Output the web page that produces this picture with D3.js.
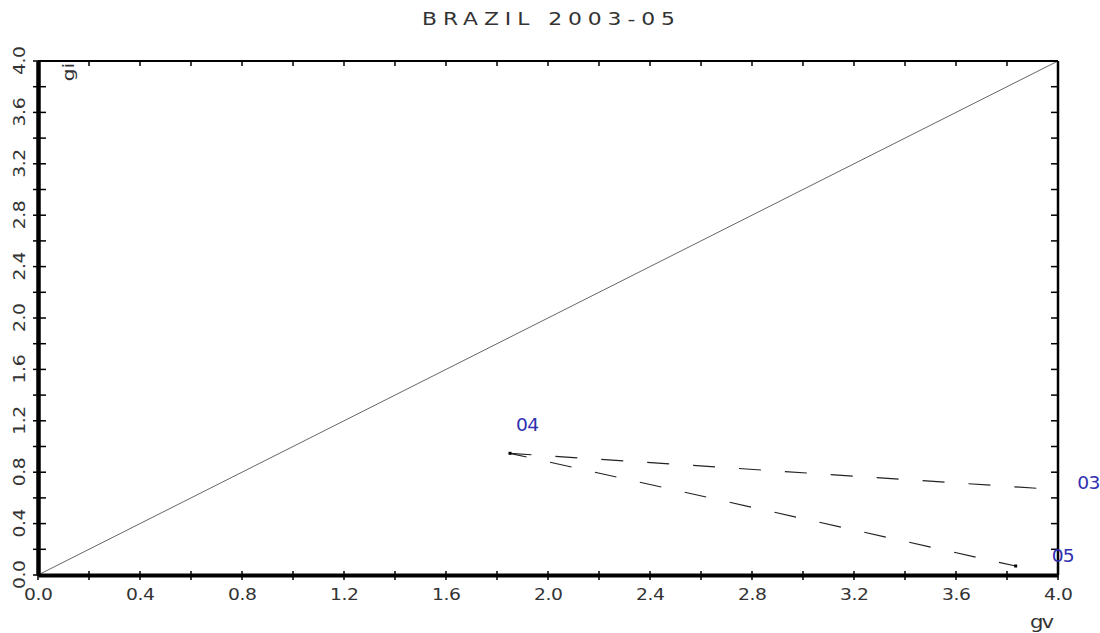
<!DOCTYPE html>
<html>
<head>
<meta charset="utf-8">
<script src="https://cdn.jsdelivr.net/npm/d3@7"></script>
<style>
  body { margin: 0; background: #fff; }
  svg text { font-family: "DejaVu Sans", sans-serif; fill: #333; }
  .tick-label { font-size: 15px; }
</style>
</head>
<body>
<div id="chart"></div>
<script>
// data
const title = "BRAZIL 2003-05";
const years = ["03", "04", "05"];
const gv = [3.915, 1.851, 3.834];
const gi = [0.675, 0.947, 0.07];
const diagonal = [0, 4];
const majorTicks = [0.0, 0.4, 0.8, 1.2, 1.6, 2.0, 2.4, 2.8, 3.2, 3.6, 4.0];
const minorTicks = [0.2, 0.6, 1.0, 1.4, 1.8, 2.2, 2.6, 3.0, 3.4, 3.8];

const width = 1100, height = 633;
const margin = { left: 38, right: 42, top: 61, bottom: 58 };
const wide = 1.25; // the original uses a wide stroke font

const svg = d3.select("#chart").append("svg")
  .attr("width", width).attr("height", height);

const x = d3.scaleLinear().domain([0, 4]).range([margin.left, width - margin.right]);
const y = d3.scaleLinear().domain([0, 4]).range([height - margin.bottom, margin.top]);

// title
svg.append("text")
  .attr("transform", `translate(422,25) scale(${wide},1)`)
  .attr("textLength", 253 / wide).attr("lengthAdjust", "spacing")
  .style("font-size", "17.5px")
  .text(title);

// 45 degree line
svg.append("line")
  .attr("x1", x(diagonal[0])).attr("y1", y(diagonal[0]))
  .attr("x2", x(diagonal[1])).attr("y2", y(diagonal[1]))
  .attr("stroke", "#666").attr("stroke-width", 1);

// frame: thin top/right, heavy left/bottom
const x0 = x(0), x1 = x(4), y0 = y(0), y1 = y(4);
svg.append("line").attr("x1", x0).attr("x2", x1).attr("y1", y1).attr("y2", y1)
  .attr("stroke", "#000").attr("stroke-width", 2);
svg.append("line").attr("x1", x1).attr("x2", x1).attr("y1", y1).attr("y2", y0)
  .attr("stroke", "#000").attr("stroke-width", 2.5);

const allTicks = majorTicks.concat(minorTicks);

// top + right inward ticks
svg.append("g").selectAll("line").data(allTicks).join("line")
  .attr("x1", d => x(d)).attr("x2", d => x(d))
  .attr("y1", y1).attr("y2", y1 + 5)
  .attr("stroke", "#000").attr("stroke-width", 1.5);
svg.append("g").selectAll("line").data(allTicks).join("line")
  .attr("x1", x1 - 7).attr("x2", x1)
  .attr("y1", d => y(d)).attr("y2", d => y(d))
  .attr("stroke", "#000").attr("stroke-width", 1.5);

// bottom axis
const xAxis = d3.axisBottom(x).tickValues(allTicks).tickSize(0).tickFormat("");
const gx = svg.append("g").attr("transform", `translate(0,${y0})`).call(xAxis);
gx.select(".domain").attr("stroke-width", 4).attr("stroke", "#000");
gx.selectAll(".tick line").remove();
svg.append("g").selectAll("line").data(allTicks).join("line")
  .attr("x1", d => x(d)).attr("x2", d => x(d))
  .attr("y1", y0 - 4).attr("y2", y0 + 5)
  .attr("stroke", "#000").attr("stroke-width", 1.5);
svg.append("g").selectAll("text").data(majorTicks).join("text")
  .attr("class", "tick-label")
  .attr("transform", d => `translate(${x(d) - 14},${y0 + 25}) scale(${wide},1)`)
  .attr("textLength", 29 / wide).attr("lengthAdjust", "spacing")
  .text(d => d.toFixed(1));

// left axis
const yAxis = d3.axisLeft(y).tickValues(allTicks).tickSize(0).tickFormat("");
const gy = svg.append("g").attr("transform", `translate(${x0},0)`).call(yAxis);
gy.select(".domain").attr("stroke-width", 4.5).attr("stroke", "#000");
gy.selectAll(".tick line").remove();
svg.append("g").selectAll("line").data(allTicks).join("line")
  .attr("x1", x0 - 5).attr("x2", x0 + 8)
  .attr("y1", d => y(d)).attr("y2", d => y(d))
  .attr("stroke", "#000").attr("stroke-width", 1.5);
svg.append("g").selectAll("text").data(majorTicks).join("text")
  .attr("class", "tick-label")
  .attr("transform", d => `translate(${x0 - 13},${y(d) + 14}) rotate(-90) scale(${wide},1)`)
  .attr("textLength", 29 / wide).attr("lengthAdjust", "spacing")
  .text(d => d.toFixed(1));

// axis titles
svg.append("text")
  .attr("transform", `translate(1030,628) scale(${wide},1)`)
  .attr("textLength", 24 / wide).attr("lengthAdjust", "spacing")
  .style("font-size", "17px")
  .text("gv");
svg.append("text")
  .attr("transform", `translate(${x0 + 36},${y1 + 2}) rotate(-90) scale(${wide},1)`)
  .attr("text-anchor", "end")
  .style("font-size", "16px")
  .text("gi");

// path 03 -> 04 -> 05
const pts = years.map((yr, i) => ({ yr, gv: gv[i], gi: gi[i] }));
const line = d3.line().x(d => x(d.gv)).y(d => y(d.gi));
svg.append("path")
  .datum(pts.slice(0, 2))
  .attr("d", line)
  .attr("fill", "none").attr("stroke", "#222").attr("stroke-width", 1.2)
  .attr("stroke-dasharray", "22,24");
svg.append("path")
  .datum(pts.slice(1))
  .attr("d", line)
  .attr("fill", "none").attr("stroke", "#222").attr("stroke-width", 1.2)
  .attr("stroke-dasharray", "22,24").attr("stroke-dashoffset", 5);

// small point marks
svg.append("g").selectAll("rect").data(pts.slice(1)).join("rect")
  .attr("x", d => x(d.gv) - 1.5).attr("y", d => y(d.gi) - 1.5)
  .attr("width", 3).attr("height", 3).attr("fill", "#000");

// year labels
const labelOffset = { "03": [41, 1], "04": [6, -22], "05": [36, -4] };
svg.append("g").selectAll("text").data(pts).join("text")
  .attr("transform", d => `translate(${x(d.gv) + labelOffset[d.yr][0]},${y(d.gi) + labelOffset[d.yr][1]}) scale(1.1,1)`)
  .attr("textLength", 21).attr("lengthAdjust", "spacing")
  .style("font-size", "17px").style("fill", "#3030b0")
  .text(d => d.yr);
</script>
</body>
</html>
